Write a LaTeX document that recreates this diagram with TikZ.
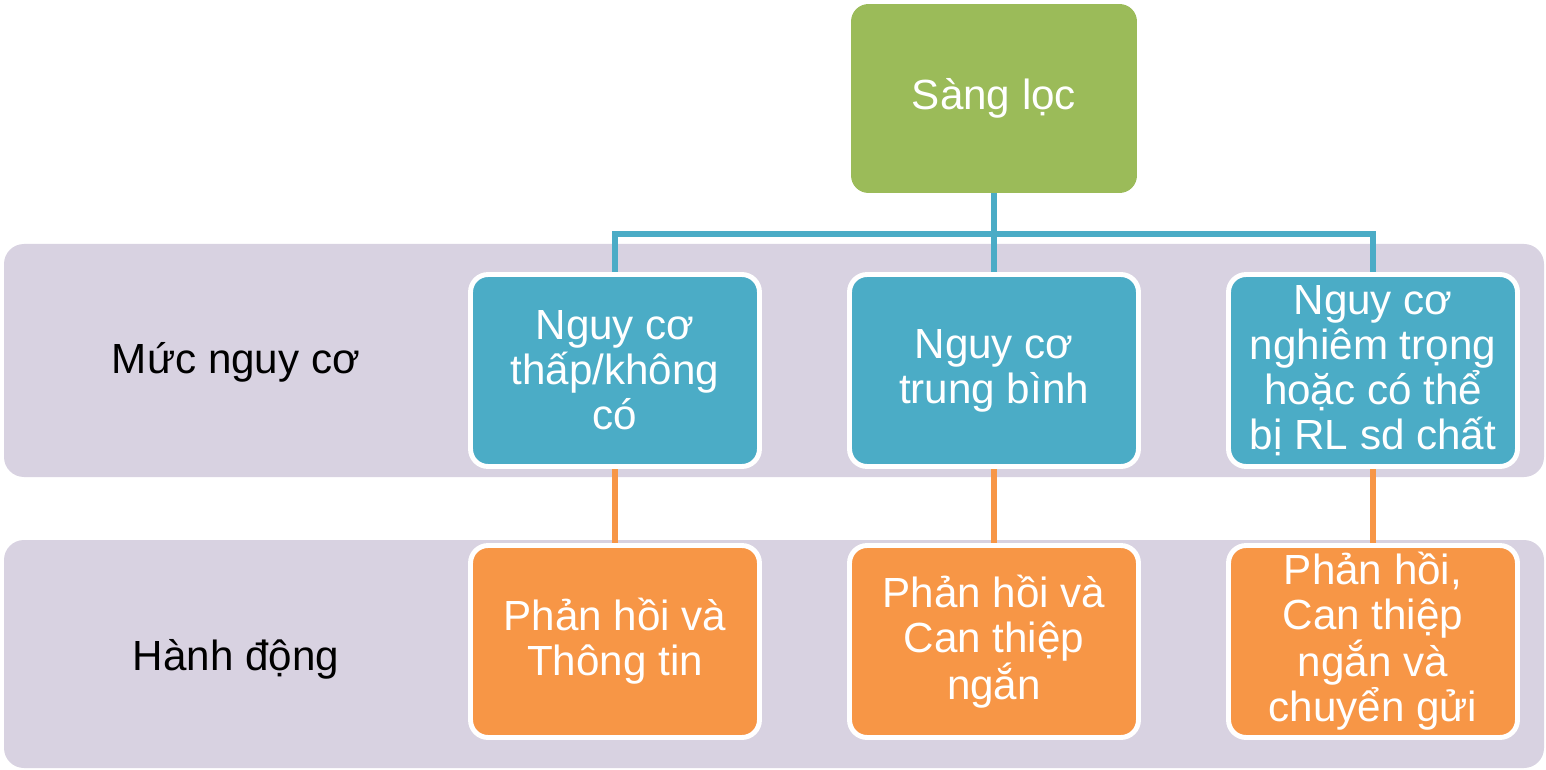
\documentclass[tikz,border=0pt]{standalone}
\usepackage{fontspec}
\setmainfont{Liberation Sans}
\usepackage{tikz}
\usetikzlibrary{positioning}
\usetikzlibrary{backgrounds}
\definecolor{greenbox}{RGB}{155,187,89}
\definecolor{bluebox}{RGB}{75,172,198}
\definecolor{orangebox}{RGB}{247,150,70}
\definecolor{bandgray}{RGB}{216,210,225}
\tikzset{
  boxnode/.style = {align=center, inner sep=0pt, text centered,
    rounded corners=0.35cm, font=\fontsize{24}{25.6}\selectfont},
  sl_top/.style = {boxnode, fill=greenbox, text=white,
    minimum width=5.72cm, minimum height=3.78cm},% sang loc
  ml_box/.style = {boxnode, fill=bluebox, text=white, draw=white,
    line width=2.8pt, minimum width=5.78cm, minimum height=3.84cm},% muc nguy co
  hd_box/.style = {boxnode, fill=orangebox, text=white, draw=white,
    line width=2.8pt, minimum width=5.78cm, minimum height=3.84cm},% hanh dong
  band/.style = {fill=bandgray, rounded corners=0.4cm},
  row_lbl/.style = {font=\fontsize{24}{25.6}\selectfont, text=black},
  link_b/.style = {draw=bluebox, line width=3.4pt},
  link_o/.style = {draw=orangebox, line width=3.4pt}
}

\begin{document}
\begin{tikzpicture}[x=0.02cm, y=-0.02cm]
\useasboundingbox (0,0) rectangle (1546,770);

\node [sl_top] (sl) at (994,98.5) {Sàng lọc};

\node [ml_box] (r1) at (615,370.5) {Nguy cơ\\thấp/không\\có};
\node [ml_box] (r2) at (994,370.5) {Nguy cơ\\trung bình};
\node [ml_box] (r3) at (1373,370.5) {Nguy cơ\\nghiêm trọng\\hoặc có thể\\bị RL sd chất};

\node [hd_box] (a1) at (615,641.5) {Phản hồi và\\Thông tin};
\node [hd_box] (a2) at (994,641.5) {Phản hồi và\\Can thiệp\\ngắn};
\node [hd_box] (a3) at (1373,641.5) {Phản hồi,\\Can thiệp\\ngắn và\\chuyển gửi};

\coordinate (bus) at (994,234);

\begin{scope}[on background layer]
\path [band] (4,244) rectangle (1544,477);
\path [band] (4,540) rectangle (1544,768);
\node [row_lbl] (ml) at (236,362) {Mức nguy cơ};
\node [row_lbl] (hd) at (236,659) {Hành động};
\draw [link_b] (sl.south) -- (r2.north);
\draw [link_b] (r1.north) |- (bus) -| (r3.north);
\draw [link_o] (r1.south) -- (a1.north);
\draw [link_o] (r2.south) -- (a2.north);
\draw [link_o] (r3.south) -- (a3.north);
\end{scope}
\end{tikzpicture}
\end{document}
